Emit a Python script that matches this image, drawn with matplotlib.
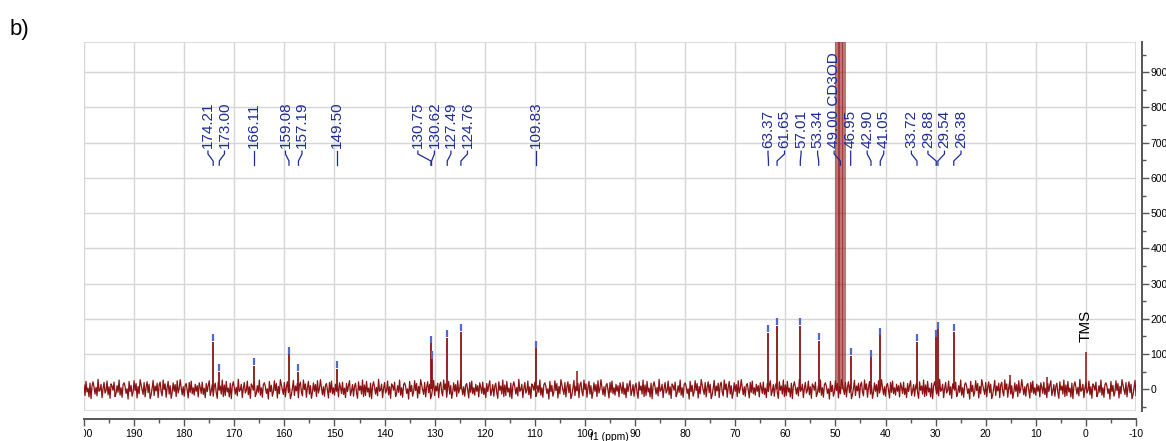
import matplotlib
import numpy as np

matplotlib.use("Agg")

from matplotlib import pyplot as plt
from matplotlib.transforms import Bbox

plt.rcParams["font.family"] = ["Liberation Sans", "DejaVu Sans"]

# picked peaks (ppm) and their heights
PEAK_PPM = [174.21, 173.00, 166.11, 159.08, 157.19, 149.50, 130.75, 130.62, 127.49, 124.76,
            109.83, 63.37, 61.65, 57.01, 53.34, 46.95, 42.90, 41.05, 33.72, 29.88, 29.54, 26.38]
PEAK_HEIGHT = [134, 49, 66, 99, 50, 57, 130, 85, 145, 162,
               116, 160, 179, 179, 137, 94, 90, 153, 134, 147, 170, 163]

# solvent septet (CD3OD) and the other unlabelled lines
SOLVENT_PPM = [49.86, 49.57, 49.29, 49.00, 48.71, 48.43, 48.14]
SOLVENT_REL = [1, 3, 6, 7, 6, 3, 1]
TMS_PPM = 0.0
TMS_HEIGHT = 106
EXTRA_PPM = [101.5, 15.2, 7.8]
EXTRA_HEIGHT = [52, 40, 35]

# labels drawn at the top (49.00 is the solvent line)
LABEL_PPM = [174.21, 173.00, 166.11, 159.08, 157.19, 149.50, 130.75, 130.62, 127.49, 124.76,
             109.83, 63.37, 61.65, 57.01, 53.34, 49.00, 46.95, 42.90, 41.05, 33.72, 29.88,
             29.54, 26.38]
LABEL_TEXT = ["174.21", "173.00", "166.11", "159.08", "157.19", "149.50", "130.75", "130.62",
              "127.49", "124.76", "109.83", "63.37", "61.65", "57.01", "53.34", "49.00 CD3OD",
              "46.95", "42.90", "41.05", "33.72", "29.88", "29.54", "26.38"]

# baseline noise values (repeated along the axis)
NOISE = [12, -18, 22, -8, 3, -22, 17, -27, 9, 21, 6, -14, 5, -19, 28, -6, -2, 14, -24, 2,
         19, -11, -4, 23, -16, 7, -26, 15, 9, -3, 20, -21, -12, 10, -9, 26, -17, 4, -23, 13,
         18, 8, -12, 1, -28, 22, -7, 11, -20, -8, 24, -4, 16, -25, 8, -13, 27, 12, -2, -15,
         19, -22, 6, 21, -10, 14, -27, -16, 3, 25, -18, 9, -5, 17, -24, 12, 20, -8, -19, 26,
         -1, 15, -23, 5, 22, -14, 10, -26, -9, 18, -6, 13, -21, 24, -11, 2, 27, 4, -16, 7,
         -20, 11, 16, -3, -25, 19, -9, 23, -13, 4, -17, 14, -6, 10, -22, 18, 5, -12, 20, -15,
         3, -24, 16, -7, 11, 24, -18, -5, 13, -20, 8, 17, -10, -26, 21, -3, 9, -14, 26, -21]

X_TICKS = list(range(200, -11, -10))
Y_TICKS = list(range(0, 901, 100))

LINE_COLOR = "#8b1212"
LABEL_COLOR = "#1c2c96"
MARK_COLOR = "#5566cc"
GRID_COLOR = "#d6d6d6"
AXIS_COLOR = "#555555"


def spread_labels(ppms, gap, factor=1.3):
    groups = [[p] for p in sorted(ppms, reverse=True)]
    merged = True
    while merged:
        merged = False
        for i in range(len(groups) - 1):
            a, b = groups[i], groups[i + 1]
            a_right = np.mean(a) - (len(a) - 1) / 2 * gap
            b_left = np.mean(b) + (len(b) - 1) / 2 * gap
            if a_right - b_left < gap * factor:
                groups[i] = a + b
                del groups[i + 1]
                merged = True
                break
    positions = []
    for g in groups:
        c = np.mean(g)
        positions += [c + ((len(g) - 1) / 2 - k) * gap for k in range(len(g))]
    return positions


fig = plt.figure(figsize=(11.66, 4.41), dpi=100)
ax = fig.add_axes([84 / 1166, 1 - 411 / 441, (1136 - 84) / 1166, (411 - 42) / 441])
ax.set_xlim(200, -10)
ax.set_ylim(-62, 986)

# baseline
x_noise = np.arange(200, -10.01, -0.2)
y_noise = np.resize(np.array(NOISE, dtype=float), len(x_noise))
ax.plot(x_noise, y_noise, color=LINE_COLOR, lw=0.9, zorder=3)

# peaks
ax.vlines(PEAK_PPM, 0, PEAK_HEIGHT, color=LINE_COLOR, lw=1.3, zorder=4)
ax.vlines(EXTRA_PPM, 0, EXTRA_HEIGHT, color=LINE_COLOR, lw=1.1, zorder=4)
ax.vlines([TMS_PPM], 0, [TMS_HEIGHT], color=LINE_COLOR, lw=1.1, zorder=4)
solvent_height = [8000 * r / 7 for r in SOLVENT_REL]
ax.vlines(SOLVENT_PPM, 0, solvent_height, color=LINE_COLOR, lw=1.1, alpha=0.75, zorder=4)

# peak pick marks
ax.vlines(PEAK_PPM, [h + 2 for h in PEAK_HEIGHT], [h + 22 for h in PEAK_HEIGHT],
          color=MARK_COLOR, lw=1.6, zorder=5)

# labels + connectors
label_pos = spread_labels(LABEL_PPM, 3.3)
label_map = dict(zip(sorted(LABEL_PPM, reverse=True), label_pos))
for ppm, txt in zip(LABEL_PPM, LABEL_TEXT):
    lx = label_map[ppm]
    ax.text(lx, 685, txt, rotation=90, ha="center", va="bottom", fontsize=11,
            color=LABEL_COLOR, zorder=6)
    ax.plot([lx, lx, ppm, ppm], [676, 668, 648, 636], color=LABEL_COLOR, lw=0.9, zorder=6)

ax.text(TMS_PPM, 134, "TMS", rotation=90, ha="center", va="bottom", fontsize=11,
        color="black", zorder=6)

# grid and frame
ax.set_xticks(X_TICKS)
ax.set_xticks(list(range(195, -10, -10)), minor=True)
ax.set_yticks(Y_TICKS)
ax.set_yticks(list(range(-50, 951, 100)), minor=True)
ax.grid(True, which="major", color=GRID_COLOR, lw=1.0, zorder=0)
ax.set_axisbelow(True)
ax.add_patch(plt.Rectangle((0, 0), 1, 1, transform=ax.transAxes, fill=False,
                           edgecolor=GRID_COLOR, lw=1.2, zorder=1))

for side in ["top", "left"]:
    ax.spines[side].set_visible(False)
ax.spines["bottom"].set_position(("outward", 6))
ax.spines["right"].set_position(("outward", 4))
for side in ["bottom", "right"]:
    ax.spines[side].set_color(AXIS_COLOR)
    ax.spines[side].set_linewidth(1.4)

ax.yaxis.tick_right()
ax.tick_params(axis="both", which="major", direction="out", length=5, width=1,
               color=AXIS_COLOR, labelsize=7.5, pad=2)
ax.tick_params(axis="y", which="major", pad=1.5)
ax.tick_params(axis="both", which="minor", direction="out", length=3, width=1,
               color=AXIS_COLOR)
ax.set_xticklabels([str(t) for t in X_TICKS])

# the 200 label is cut at the frame edge
clip = Bbox.from_extents(84, 0, 1166, 441)
for lbl in ax.get_xticklabels():
    if lbl.get_text() == "200":
        lbl.set_clip_box(clip)
        lbl.set_clip_on(True)

fig.text(609 / 1166, 1 - 437 / 441, "f1 (ppm)", ha="center", va="center", fontsize=7.5)
fig.text(10 / 1166, 1 - 30 / 441, "b)", ha="left", va="center", fontsize=16)

fig.savefig("out.png", dpi=100)
